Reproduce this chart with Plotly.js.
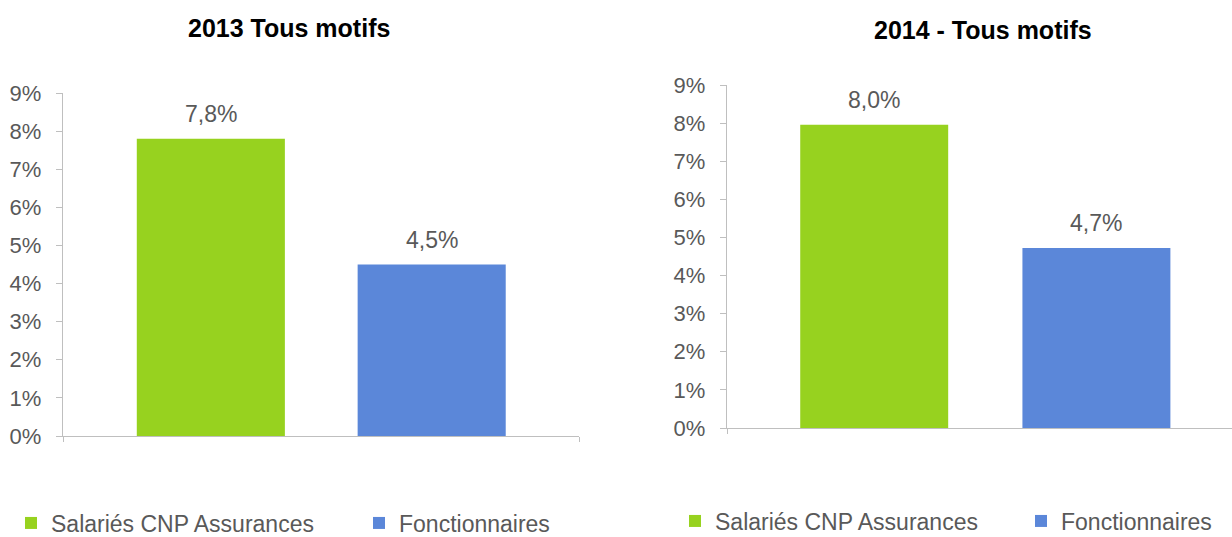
<!DOCTYPE html>
<html>
<head>
<meta charset="utf-8">
<script src="https://cdn.plot.ly/plotly-3.0.1.min.js"></script>
<style>html,body{margin:0;padding:0;background:#fff;}#chart{width:1232px;height:537px;}</style>
</head>
<body>
<div id="chart"></div>
<script>
// ---- data ----
const panelTitles = ["2013 Tous motifs", "2014 - Tous motifs"];
const seriesNames = ["Salariés CNP Assurances", "Fonctionnaires"];
const category = ["Tous motifs"];
const values2013 = [0.078, 0.045];
const values2014 = [0.0796, 0.0472];
const yTickVals = [0, 0.01, 0.02, 0.03, 0.04, 0.05, 0.06, 0.07, 0.08, 0.09];

// ---- style ----
const colors = ["#97D21F", "#5B87D9"];
const grey = "#595959";
const font = "Arial, 'Liberation Sans', sans-serif";
const barW = [0.287, 0.293];
const barOff = [[-0.357, 0.071], [-0.355, 0.085]];
// legend placement (pixels): [x of legend box, y centre of text]
const legendPos = [[[11, 523], [359, 523]], [[675, 521], [1021, 521]]];

const panels = [
  {vals: values2013, xa: "x", ya: "y", i: 0},
  {vals: values2014, xa: "x2", ya: "y2", i: 1}
];

const traces = [];
const annotations = [];
const legends = {};
function fmt(v){ return (v*100).toFixed(1).replace(".", ",") + "%"; }

let legIdx = 0;
panels.forEach(p => {
  p.vals.forEach((v, s) => {
    legIdx++;
    const legId = legIdx === 1 ? "legend" : "legend" + legIdx;
    traces.push({
      type: "bar", x: category, y: [v], name: seriesNames[s],
      xaxis: p.xa, yaxis: p.ya, legend: legId,
      marker: {color: colors[s]},
      width: barW[p.i], offset: barOff[p.i][s],
      hoverinfo: "skip"
    });
    const lp = legendPos[p.i][s];
    legends[legId] = {orientation: "h", x: lp[0]/1232, y: 1 - lp[1]/537, xanchor: "left", yanchor: "middle",
      font: {family: font, size: 23, color: grey}, bgcolor: "rgba(0,0,0,0)"};
    annotations.push({
      xref: p.xa, yref: p.ya, x: barOff[p.i][s] + barW[p.i]/2, y: v,
      text: fmt(v), showarrow: false, yanchor: "bottom", yshift: 10,
      font: {family: font, size: 23, color: grey}
    });
  });
});

annotations.push({xref:"paper", yref:"paper", x: 289/1232, y: 1-28/537, text: "<b>"+panelTitles[0]+"</b>",
  showarrow:false, xanchor:"center", yanchor:"middle", font:{family:font,size:25,color:"#000"}});
annotations.push({xref:"paper", yref:"paper", x: 983/1232, y: 1-30/537, text: "<b>"+panelTitles[1]+"</b>",
  showarrow:false, xanchor:"center", yanchor:"middle", font:{family:font,size:25,color:"#000"}});

function xax(domain, anchor){
  return {domain: domain, anchor: anchor, type: "category", range: [-0.5, 0.5],
    showticklabels: false, showgrid: false, zeroline: false,
    showline: true, linecolor: "#bfbfbf", linewidth: 1.3,
    ticks: "outside", tickson: "boundaries", ticklen: 5, tickcolor: "#bfbfbf", fixedrange: true};
}
function yax(domain, anchor){
  return {domain: domain, anchor: anchor, range: [0, 0.09], tickvals: yTickVals, tickformat: ".0%",
    showgrid: false, zeroline: false, showline: true, linecolor: "#bfbfbf", linewidth: 1.3,
    ticks: "outside", ticklen: 6, tickcolor: "#bfbfbf", ticklabelstandoff: 10,
    tickfont: {family: font, size: 22, color: grey}, fixedrange: true};
}

const layout = Object.assign({
  width: 1232, height: 537,
  margin: {l: 0, r: 0, t: 0, b: 0, autoexpand: false},
  paper_bgcolor: "#fff", plot_bgcolor: "#fff",
  showlegend: true,
  xaxis: xax([63/1232, 579/1232], "y"),
  yaxis: yax([1-436/537, 1-93/537], "x"),
  xaxis2: xax([727/1232, 1], "y2"),
  yaxis2: yax([1-428/537, 1-85/537], "x2"),
  annotations: annotations
}, legends);

Plotly.newPlot("chart", traces, layout, {displayModeBar: false, staticPlot: true});
</script>
</body>
</html>
